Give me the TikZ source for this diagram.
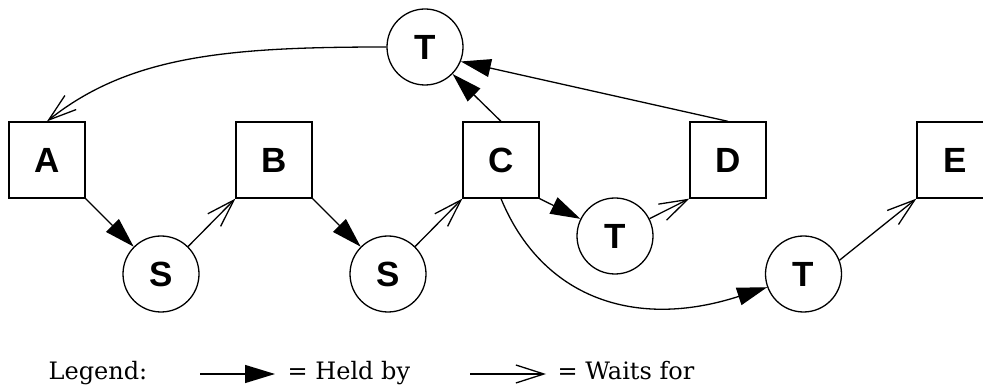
\documentclass[tikz,border=0pt]{standalone}
\usepackage{fontspec}
\newfontfamily\labelfont{Liberation Sans}
\newfontfamily\legendfont{DejaVu Serif}
\usetikzlibrary{arrows.meta}

\begin{document}
\begin{tikzpicture}[x=1pt, y=-1pt, line width=1.3pt,
  lbl/.style={font=\labelfont\bfseries\fontsize{35}{35}\selectfont},
  resource/.style={lbl, draw, rectangle, minimum size=76pt, inner sep=0pt},
  thread/.style={lbl, draw, circle, minimum size=76pt, inner sep=0pt},
  held/.style={-{Triangle[length=30pt, width=18pt]}},
  waits/.style={-{Straight Barb[length=28pt, width=18pt]}},
  legendtext/.style={anchor=base west, inner sep=0pt, font=\legendfont\fontsize{24}{26}\selectfont}]

\useasboundingbox (0,0) rectangle (983,387);

% resources
\node[resource] (A) at (47,160)  {A};
\node[resource] (B) at (274,160) {B};
\node[resource] (C) at (501,160) {C};
\node[resource] (D) at (728,160) {D};
\node[resource] (E) at (955,160) {E};

% threads and semaphores
\node[thread] (Ttop) at (425,47)    {T};
\node[thread] (S1)   at (161,274)   {S};
\node[thread] (S2)   at (388,274)   {S};
\node[thread] (Tmid) at (615,236)   {T};
\node[thread] (Tr)   at (803.5,274) {T};

% edges
\draw[waits] (Ttop.west) .. controls (230,47) and (130,55) .. (A.north);
\draw[held]  (A.south east) -- (S1);
\draw[waits] (S1) -- (B.south west);
\draw[held]  (B.south east) -- (S2);
\draw[waits] (S2) -- (C.south west);
\draw[held]  (C.north) -- (Ttop);
\draw[held]  (D.north) -- (Ttop.-22);
\draw[held]  (C.south east) -- (Tmid);
\draw[waits] (Tmid) -- (D.south west);
\draw[held]  (C.south) .. controls (542,298) and (635,330) .. (Tr.200);
\draw[waits] (Tr.21) -- (E.south west);

% legend
\node[legendtext] (leg) at (48,380) {Legend:};
\coordinate (h1) at (200,374);
\coordinate (h2) at (275,374);
\draw[held] (h1) -- (h2);
\node[legendtext] (heldtxt) at (287,380) {= Held by};
\coordinate (w1) at (470,374);
\coordinate (w2) at (546,374);
\draw[waits] (w1) -- (w2);
\node[legendtext] (waittxt) at (557,380) {= Waits for};
\end{tikzpicture}
\end{document}
